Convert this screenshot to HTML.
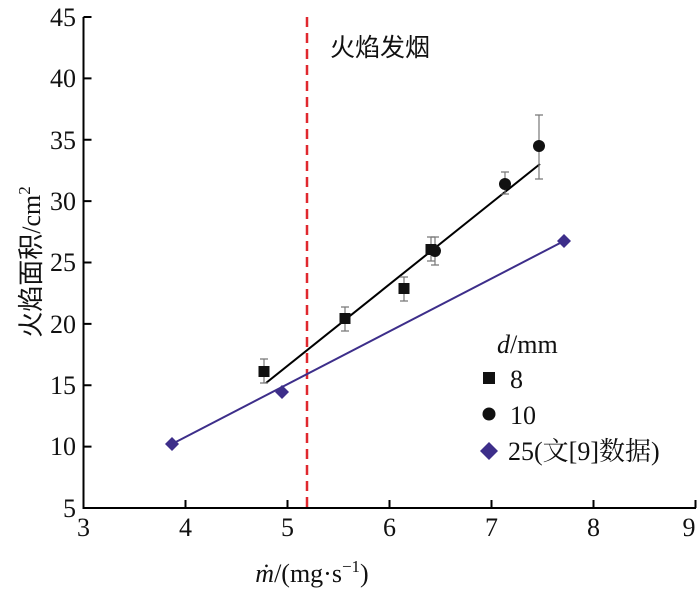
<!DOCTYPE html><html><head><meta charset="utf-8"><style>body{margin:0;background:#fff}</style></head><body>
<svg width="700" height="591" xmlns="http://www.w3.org/2000/svg" font-family="Liberation Serif, Noto Serif CJK SC, serif">
<g stroke="#000" stroke-width="2" fill="none">
<path d="M83.5,17 V508 H696"/>
<path d="M185.5,508v-8M287.5,508v-8M389.5,508v-8M491.5,508v-8M593.5,508v-8M695.5,508v-8"/>
<path d="M83.5,446.6h8M83.5,385.2h8M83.5,323.9h8M83.5,262.5h8M83.5,201.1h8M83.5,139.8h8M83.5,78.4h8M83.5,17h8"/>
</g>
<g font-size="26" text-anchor="middle" fill="#111">
<text x="83.5" y="536">3</text><text x="185.5" y="536">4</text><text x="287.5" y="536">5</text><text x="389.5" y="536">6</text><text x="491.5" y="536">7</text><text x="593.5" y="536">8</text><text x="689" y="536">9</text>
</g>
<g font-size="26" text-anchor="end" fill="#111">
<text x="76" y="517">5</text><text x="76" y="455">10</text><text x="76" y="394">15</text><text x="76" y="333">20</text><text x="76" y="271">25</text><text x="76" y="210">30</text><text x="76" y="149">35</text><text x="76" y="87">40</text><text x="76" y="26">45</text>
</g>
<line x1="307" y1="17" x2="307" y2="508" stroke="#e0282e" stroke-width="2.5" stroke-dasharray="10,6"/>
<text x="330" y="56" font-size="25" font-family="Noto Sans CJK SC, sans-serif" fill="#111">火焰发烟</text>
<line x1="266" y1="383" x2="540" y2="164" stroke="#000" stroke-width="2"/>
<line x1="172" y1="444" x2="564" y2="241" stroke="#3d2e8a" stroke-width="2"/>
<g stroke="#777" stroke-width="1.2" fill="none">
<path d="M264,359v24M260,359h8M260,383h8"/><path d="M345,307v24M341,307h8M341,331h8"/><path d="M404,277v24M400,277h8M400,301h8"/><path d="M431,237v24M427,237h8M427,261h8"/><path d="M435,237v28M431,237h8M431,265h8"/><path d="M505,172v22M501,172h8M501,194h8"/><path d="M539,115v64M535,115h8M535,179h8"/>
</g>
<g fill="#111"><rect x="258.5" y="366" width="11" height="11"/><rect x="339.5" y="313" width="11" height="11"/><rect x="398.5" y="283" width="11" height="11"/><rect x="425.5" y="244" width="11" height="11"/>
<circle cx="435" cy="251" r="6"/><circle cx="505" cy="184" r="6"/><circle cx="539" cy="146" r="6"/></g>
<g fill="#3d2e8a"><path d="M172,437l7,7-7,7-7-7z"/><path d="M282,385l7,7-7,7-7-7z"/><path d="M564,234l7,7-7,7-7-7z"/></g>
<text x="497" y="353" font-size="26" fill="#111"><tspan font-style="italic">d</tspan>/mm</text>
<rect x="483" y="372" width="12" height="12" fill="#111"/><text x="510" y="388" font-size="26" fill="#111">8</text>
<circle cx="489" cy="414" r="6.5" fill="#111"/><text x="510" y="424" font-size="26" fill="#111">10</text>
<path d="M489,442l9,9-9,9-9-9z" fill="#3d2e8a"/><text x="508" y="460" font-size="26" fill="#111">25(文[9]数据)</text>
<text x="312" y="582" font-size="26" text-anchor="middle" fill="#111"><tspan font-style="italic">ṁ</tspan>/(mg·s<tspan dy="-10" font-size="17">−1</tspan><tspan dy="10">)</tspan></text>
<text transform="translate(40,262) rotate(-90)" font-size="26" text-anchor="middle" fill="#111"><tspan font-family="Noto Sans CJK SC, sans-serif">火焰面积</tspan>/cm<tspan dy="-10" font-size="17">2</tspan></text>
</svg></body></html>
